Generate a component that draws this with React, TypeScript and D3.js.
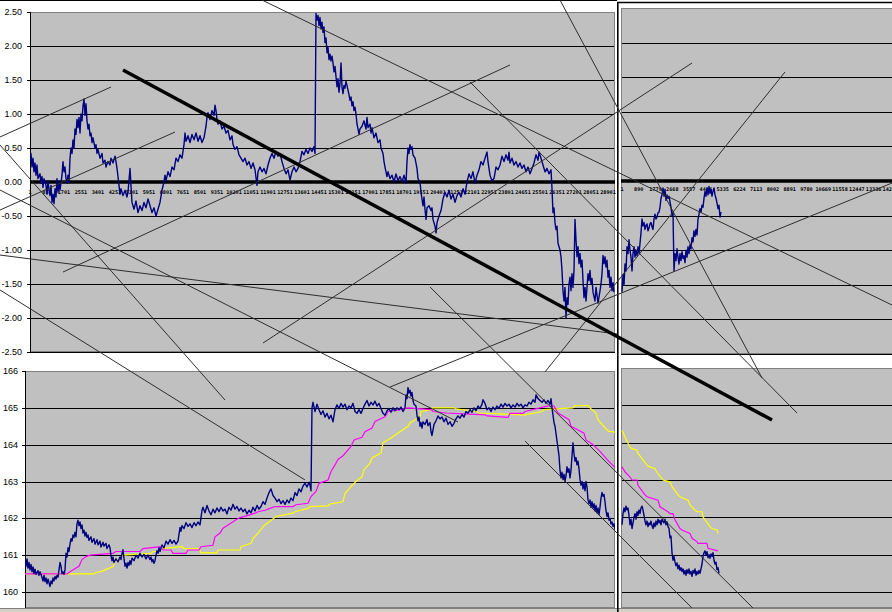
import React from 'react';
import * as d3 from 'd3';

const W = 892;
const H = 612;

// ---- axis values / labels ----
const topYTicks = [2.5, 2, 1.5, 1, 0.5, 0, -0.5, -1, -1.5, -2, -2.5];
const botYTicks = [166, 165, 164, 163, 162, 161, 160];
const leftXLabels = ['1','851','1701','2551','3401','4251','5101','5951','6801','7651','8501','9351','10201','11051','11901','12751','13601','14451','15301','16151','17001','17851','18701','19551','20401','21251','22101','22951','23801','24651','25501','26351','27201','28051','28901'];
const rightXLabels = ['1','890','1779','2668','3557','4446','5335','6224','7113','8002','8891','9780','10669','11558','12447','13336','14225'];

// ---- top-left series: [observation, value] ----
const topLeftSeries: [number, number][] = [
[0,0.30],[50,0.42],[100,0.22],[150,0.35],[200,0.15],[250,0.28],[300,0.10],[350,0.25],[400,0.05],[500,0.12],[550,-0.02],[600,0.08],[650,-0.08],[700,0.05],[800,-0.05],[850,-0.18],[900,0.02],[950,-0.12],[1000,-0.20],[1050,-0.05],[1100,-0.30],[1150,-0.18],[1200,-0.32],[1250,-0.10],[1300,-0.22],[1350,0.05],[1400,-0.15],[1450,0.00],[1500,-0.12],[1600,0.10],[1650,0.30],[1700,0.15],[1750,0.22],[1800,0.05],[1850,-0.02],[1900,0.10],[1950,0.00],[2000,0.35],[2050,0.50],[2100,0.42],[2150,0.62],[2200,0.50],[2250,0.78],[2300,0.70],[2350,0.92],[2400,0.80],[2450,0.95],[2500,0.72],[2550,1.00],[2600,0.90],[2650,1.12],[2700,1.22],[2750,0.98],[2800,1.15],[2850,0.90],[2900,0.78],[2950,0.85],[3000,0.68],[3050,0.72],[3100,0.58],[3150,0.65],[3250,0.50],[3300,0.55],[3350,0.42],[3400,0.48],[3500,0.35],[3600,0.42],[3650,0.28],[3750,0.32],[3800,0.22],[3900,0.30],[4000,0.25],[4050,0.35],[4150,0.28],[4250,0.38],[4300,0.30],[4350,0.20],[4400,0.08],[4450,-0.05],[4500,-0.18],[4550,-0.10],[4650,-0.20],[4750,-0.12],[4850,-0.22],[4900,-0.15],[5000,0.20],[5050,-0.05],[5100,-0.30],[5200,-0.40],[5300,-0.28],[5400,-0.45],[5500,-0.35],[5600,-0.42],[5700,-0.30],[5800,-0.38],[5900,-0.25],[6000,-0.35],[6100,-0.45],[6200,-0.38],[6300,-0.50],[6400,-0.40],[6500,-0.30],[6600,-0.12],[6700,0.00],[6750,0.10],[6800,0.02],[6900,0.15],[7000,0.08],[7100,0.22],[7200,0.18],[7300,0.35],[7400,0.30],[7500,0.40],[7600,0.35],[7700,0.55],[7750,0.72],[7800,0.60],[7900,0.68],[8000,0.58],[8100,0.70],[8200,0.62],[8300,0.72],[8400,0.60],[8500,0.68],[8600,0.58],[8700,0.65],[8800,0.82],[8850,0.95],[8900,1.02],[9000,0.92],[9100,1.05],[9200,0.98],[9250,1.13],[9300,1.05],[9350,0.92],[9400,0.85],[9500,0.90],[9600,0.78],[9700,0.82],[9800,0.72],[9900,0.76],[10000,0.62],[10100,0.68],[10150,0.55],[10250,0.48],[10350,0.52],[10450,0.40],[10550,0.35],[10650,0.30],[10750,0.35],[10850,0.25],[10950,0.30],[11050,0.20],[11150,0.28],[11250,0.18],[11350,-0.05],[11400,0.15],[11500,0.22],[11600,0.15],[11700,0.20],[11800,0.12],[11900,0.25],[12000,0.35],[12100,0.42],[12200,0.35],[12300,0.45],[12400,0.38],[12500,0.42],[12600,0.30],[12700,0.20],[12800,0.12],[12900,0.18],[13000,0.03],[13100,0.15],[13200,0.22],[13300,0.15],[13400,0.20],[13500,0.30],[13600,0.45],[13700,0.40],[13800,0.48],[13900,0.42],[14000,0.50],[14100,0.45],[14200,0.52],[14250,0.42],[14300,2.48],[14350,2.38],[14400,2.45],[14450,2.30],[14500,2.42],[14550,2.25],[14600,2.35],[14650,2.20],[14700,2.28],[14750,2.05],[14800,2.12],[14850,1.90],[14900,1.98],[14950,1.80],[15000,1.88],[15050,1.78],[15100,1.85],[15150,1.75],[15200,1.62],[15250,1.70],[15300,1.55],[15350,1.40],[15400,1.52],[15450,1.32],[15500,1.45],[15550,1.75],[15600,1.40],[15650,1.30],[15700,1.42],[15750,1.38],[15800,1.48],[15850,1.42],[15900,1.35],[15950,1.28],[16000,1.20],[16050,1.25],[16100,1.12],[16150,1.18],[16200,1.05],[16250,1.10],[16300,1.00],[16350,0.85],[16400,0.78],[16450,0.70],[16500,0.78],[16600,0.82],[16700,0.90],[16800,0.78],[16850,0.95],[16900,0.80],[17000,0.85],[17050,0.72],[17100,0.80],[17200,0.65],[17300,0.72],[17400,0.58],[17500,0.62],[17550,0.50],[17650,0.42],[17700,0.30],[17750,0.22],[17850,0.08],[17900,0.15],[18000,0.05],[18100,0.10],[18200,0.00],[18300,0.12],[18400,0.02],[18500,0.08],[18600,0.00],[18700,0.10],[18800,-0.02],[18850,0.30],[18900,0.50],[18950,0.42],[19000,0.55],[19050,0.48],[19100,0.52],[19150,0.40],[19250,0.35],[19350,0.20],[19400,0.05],[19500,0.00],[19550,-0.15],[19600,-0.25],[19650,-0.35],[19700,-0.22],[19750,-0.40],[19800,-0.55],[19850,-0.38],[19950,-0.35],[20050,-0.42],[20100,-0.38],[20150,-0.55],[20250,-0.65],[20300,-0.75],[20350,-0.60],[20450,-0.50],[20550,-0.42],[20650,-0.25],[20750,-0.15],[20850,-0.22],[20950,-0.12],[21050,-0.25],[21150,-0.18],[21250,-0.30],[21350,-0.20],[21450,-0.15],[21550,-0.22],[21650,-0.10],[21750,-0.18],[21850,0.00],[21950,0.12],[22050,0.05],[22150,0.15],[22250,-0.02],[22350,0.10],[22450,0.18],[22550,0.30],[22650,0.25],[22750,0.35],[22850,0.44],[22900,0.30],[23000,0.10],[23100,0.02],[23200,0.05],[23300,0.22],[23400,0.18],[23500,0.25],[23600,0.38],[23700,0.30],[23800,0.40],[23900,0.32],[23950,0.44],[24000,0.28],[24100,0.35],[24200,0.25],[24300,0.30],[24400,0.22],[24500,0.28],[24600,0.20],[24700,0.25],[24800,0.15],[24900,0.22],[25000,0.12],[25100,0.20],[25200,0.28],[25300,0.40],[25400,0.32],[25450,0.44],[25550,0.35],[25650,0.25],[25750,0.15],[25850,0.20],[25950,0.12],[26050,0.18],[26100,-0.10],[26150,-0.45],[26200,-0.38],[26250,-0.60],[26300,-0.70],[26350,-0.65],[26400,-0.90],[26500,-1.00],[26550,-1.10],[26600,-1.30],[26650,-1.60],[26700,-1.75],[26750,-1.55],[26800,-2.00],[26850,-1.70],[26900,-1.80],[26950,-1.50],[27000,-1.40],[27050,-1.60],[27100,-1.35],[27150,-1.55],[27200,-1.30],[27250,-0.55],[27300,-0.85],[27350,-1.10],[27400,-0.95],[27450,-1.20],[27500,-1.05],[27550,-1.25],[27600,-1.15],[27650,-1.45],[27700,-1.70],[27750,-1.55],[27800,-1.75],[27850,-1.55],[27900,-1.35],[27950,-1.45],[28000,-1.30],[28050,-1.50],[28100,-1.42],[28150,-1.62],[28250,-1.75],[28300,-1.55],[28400,-1.78],[28500,-1.60],[28550,-1.50],[28600,-1.35],[28650,-1.08],[28700,-1.20],[28750,-1.10],[28800,-1.25],[28850,-1.15],[28900,-1.40],[28950,-1.30],[29000,-1.55],[29050,-1.40],[29100,-1.60],[29150,-1.48],[29200,-1.62]
];

// ---- top-right series: one value every 53 observations ----
const topRightStep = 53;
const topRightSeries = [
-1.60,-1.35,-1.50,-1.20,-1.30,-0.95,-1.05,-0.85,-1.00,-1.10,-1.30,-1.05,-0.95,-1.10,-1.00,-1.08,-0.95,-1.05,-0.90,-0.75,
-0.55,-0.65,-0.60,-0.70,-0.64,-0.62,-0.72,-0.68,-0.62,-0.60,-0.66,-0.70,-0.55,-0.48,-0.55,-0.52,-0.46,-0.45,-0.38,-0.25,
-0.20,-0.10,-0.22,-0.12,-0.28,-0.20,-0.25,-0.22,-0.30,-0.38,-0.50,-0.45,-1.30,-1.05,-1.15,-0.98,-1.10,-1.20,-1.05,-1.15,
-1.02,-1.12,-1.08,-1.18,-1.00,-1.10,-0.95,-1.05,-0.92,-0.98,-0.82,-0.88,-0.72,-0.80,-0.70,-0.78,-0.55,-0.48,-0.40,-0.45,
-0.35,-0.38,-0.25,-0.15,-0.22,-0.10,-0.20,-0.08,-0.18,-0.12,-0.22,-0.15,-0.10,-0.20,-0.25,-0.32,-0.40,-0.35,-0.52,-0.45
];

// ---- bottom-left series ----
const bottomLeftPrice: [number, number][] = [
[0,160.85],[50,160.70],[100,160.90],[150,160.65],[200,160.80],[250,160.60],[300,160.75],[350,160.55],[400,160.68],[450,160.50],[500,160.62],[550,160.48],[650,160.58],[700,160.45],[750,160.55],[850,160.40],[900,160.30],[950,160.45],[1000,160.28],[1050,160.38],[1100,160.22],[1150,160.35],[1200,160.25],[1250,160.15],[1300,160.30],[1350,160.22],[1400,160.38],[1450,160.30],[1500,160.42],[1550,160.35],[1600,160.45],[1650,160.40],[1750,160.80],[1800,160.70],[1850,160.50],[1900,160.55],[1950,160.48],[2000,160.60],[2050,161.05],[2100,160.95],[2150,161.20],[2200,161.10],[2250,161.30],[2300,161.45],[2350,161.38],[2400,161.55],[2450,161.48],[2500,161.62],[2550,161.50],[2600,161.85],[2650,161.95],[2700,161.80],[2750,161.90],[2800,161.72],[2850,161.82],[2900,161.60],[2950,161.68],[3000,161.52],[3050,161.62],[3100,161.48],[3150,161.55],[3200,161.40],[3300,161.50],[3350,161.35],[3450,161.45],[3500,161.30],[3600,161.42],[3650,161.28],[3750,161.38],[3800,161.22],[3900,161.35],[3950,161.25],[4050,161.32],[4100,161.18],[4200,161.28],[4250,161.20],[4300,160.98],[4350,160.85],[4400,160.95],[4450,160.80],[4550,160.90],[4650,160.82],[4750,160.95],[4800,160.88],[4850,161.05],[4900,161.15],[4950,160.90],[5000,160.70],[5050,160.78],[5100,160.65],[5150,160.80],[5200,160.72],[5250,160.85],[5300,160.75],[5350,160.92],[5450,160.85],[5550,161.00],[5650,160.92],[5750,161.05],[5850,160.95],[5950,161.02],[6050,160.90],[6150,161.00],[6250,160.88],[6300,160.95],[6350,160.82],[6400,160.88],[6450,160.78],[6500,160.85],[6550,161.00],[6600,161.12],[6650,161.05],[6700,161.20],[6750,161.10],[6850,161.28],[6950,161.20],[7050,161.38],[7150,161.30],[7250,161.42],[7350,161.32],[7450,161.40],[7550,161.30],[7650,161.38],[7750,161.75],[7800,161.65],[7850,161.80],[7950,161.72],[8050,161.88],[8150,161.78],[8250,161.85],[8350,161.75],[8450,161.88],[8550,161.80],[8650,161.90],[8750,161.82],[8850,162.22],[8900,162.30],[9000,162.15],[9100,162.35],[9200,162.20],[9300,162.10],[9400,162.25],[9500,162.15],[9600,162.28],[9700,162.18],[9800,162.30],[9900,162.20],[10000,162.25],[10100,162.12],[10200,162.30],[10300,162.22],[10400,162.38],[10500,162.25],[10600,162.32],[10700,162.20],[10800,162.28],[10900,162.18],[11000,162.25],[11100,162.12],[11200,162.22],[11300,162.15],[11400,162.30],[11500,162.20],[11600,162.35],[11700,162.25],[11800,162.32],[11900,162.45],[12000,162.38],[12100,162.55],[12200,162.70],[12300,162.80],[12400,162.62],[12500,162.55],[12600,162.45],[12700,162.52],[12800,162.40],[12900,162.48],[13000,162.38],[13100,162.50],[13200,162.42],[13300,162.55],[13400,162.48],[13500,162.70],[13600,162.62],[13700,162.80],[13800,162.72],[13900,162.88],[14000,162.95],[14100,162.85],[14200,162.98],[14250,162.90],[14300,162.75],[14350,165.00],[14400,165.15],[14500,164.90],[14600,165.10],[14700,164.95],[14800,164.82],[14900,164.92],[15000,164.75],[15100,164.85],[15200,164.70],[15300,164.80],[15400,164.62],[15500,164.95],[15600,165.08],[15700,164.98],[15800,165.12],[15900,165.02],[16000,165.10],[16100,164.95],[16200,165.05],[16300,165.00],[16400,165.12],[16500,164.90],[16600,164.85],[16700,164.95],[16800,164.85],[16900,164.98],[17000,165.10],[17100,165.20],[17200,165.05],[17300,165.15],[17400,165.08],[17500,165.18],[17600,165.05],[17700,165.12],[17800,164.98],[17900,164.85],[18000,164.80],[18100,164.92],[18200,164.98],[18300,164.88],[18400,165.00],[18500,164.92],[18600,165.00],[18700,164.95],[18800,165.02],[18900,164.90],[19000,165.00],[19050,165.35],[19100,165.25],[19150,165.55],[19200,165.40],[19250,165.48],[19300,165.32],[19350,165.42],[19400,165.20],[19450,165.10],[19550,165.05],[19600,164.80],[19650,164.65],[19700,164.75],[19750,164.50],[19800,164.60],[19850,164.45],[19900,164.62],[20000,164.55],[20100,164.68],[20150,164.52],[20250,164.60],[20300,164.35],[20350,164.25],[20400,164.40],[20450,164.55],[20550,164.65],[20650,164.78],[20750,164.70],[20850,164.75],[20950,164.62],[21050,164.72],[21150,164.55],[21250,164.62],[21350,164.50],[21450,164.58],[21550,164.70],[21650,164.78],[21750,164.72],[21850,164.82],[21950,164.75],[22050,164.90],[22150,164.85],[22250,164.95],[22350,164.88],[22450,165.00],[22550,164.92],[22650,165.05],[22750,164.98],[22850,165.10],[22900,165.22],[23000,165.12],[23100,164.95],[23200,165.00],[23300,164.90],[23400,165.02],[23500,164.95],[23600,165.05],[23700,164.98],[23800,165.10],[23900,165.02],[24000,165.12],[24100,165.05],[24200,165.10],[24300,165.00],[24400,165.08],[24500,165.02],[24600,165.12],[24700,165.05],[24800,165.10],[24900,165.00],[25000,165.08],[25100,165.05],[25200,165.15],[25300,165.10],[25400,165.22],[25500,165.15],[25550,165.35],[25650,165.25],[25750,165.20],[25850,165.15],[25950,165.22],[26050,165.12],[26150,165.20],[26250,165.10],[26300,165.25],[26350,165.00],[26400,164.80],[26450,164.60],[26500,164.50],[26550,164.30],[26600,164.10],[26650,163.90],[26700,163.70],[26750,163.30],[26800,163.10],[26850,163.25],[26900,163.05],[26950,163.20],[27000,163.00],[27050,163.15],[27100,163.40],[27150,163.25],[27200,163.35],[27250,163.10],[27300,163.30],[27350,163.70],[27400,164.05],[27450,163.75],[27500,163.55],[27550,163.65],[27600,163.45],[27650,163.55],[27700,163.35],[27750,163.05],[27800,162.90],[27850,163.00],[27900,162.80],[27950,162.95],[28000,162.75],[28050,163.00],[28100,162.85],[28150,162.50],[28200,162.40],[28250,162.50],[28300,162.30],[28350,162.45],[28400,162.28],[28450,162.40],[28500,162.20],[28550,162.35],[28600,162.15],[28650,162.28],[28700,162.10],[28750,162.30],[28800,162.55],[28850,162.70],[28900,162.60],[28950,162.65],[29000,162.45],[29050,162.20],[29100,162.05],[29150,162.15],[29200,161.95],[29250,162.00],[29300,161.85],[29350,161.90],[29400,161.78],[29450,161.85],[29500,161.70]
];
const bottomLeftMagenta: [number, number][] = [
[0,160.49],[2100,160.49],[2250,160.55],[2450,160.62],[2700,160.70],[2850,160.88],[3050,160.96],[3250,161.00],[4400,161.05],[4550,161.10],[5750,161.10],[5900,161.18],[6800,161.23],[6900,161.14],[7300,161.14],[7400,161.05],[8050,161.05],[8150,161.14],[8700,161.14],[8800,161.23],[9400,161.27],[9500,161.50],[9750,161.60],[9900,161.73],[10250,161.85],[10550,161.96],[10750,162.02],[11150,162.08],[11500,162.14],[11650,162.18],[12000,162.22],[12250,162.27],[12500,162.32],[13400,162.32],[13550,162.37],[14150,162.41],[14300,162.59],[14550,162.73],[14700,162.95],[15150,163.04],[15300,163.27],[15500,163.45],[15650,163.60],[15900,163.70],[16300,163.95],[16450,164.13],[16850,164.20],[17000,164.35],[17350,164.45],[17500,164.63],[18000,164.76],[18150,164.90],[18750,164.95],[19150,165.00],[20300,164.95],[20400,164.90],[21050,164.86],[23000,164.81],[23100,164.78],[24150,164.74],[24250,164.85],[24900,164.85],[25000,164.90],[26050,165.04],[26150,165.05],[26450,165.05],[26650,164.86],[27200,164.68],[27300,164.50],[27950,164.31],[28050,164.13],[28400,164.00],[28750,163.82],[29100,163.60],[29500,163.38]
];
const bottomLeftYellow: [number, number][] = [
[0,160.49],[3450,160.49],[3550,160.53],[3850,160.56],[4000,160.60],[4400,160.69],[4500,160.82],[4800,160.96],[4900,161.00],[6300,161.05],[6400,161.10],[6700,161.10],[6800,161.18],[7850,161.23],[7950,161.18],[8700,161.18],[8800,161.06],[9600,161.06],[9650,161.14],[10750,161.14],[10800,161.23],[11300,161.32],[11400,161.45],[11650,161.60],[11950,161.80],[12250,161.92],[12550,162.05],[13400,162.14],[13500,162.18],[14150,162.27],[14250,162.32],[15150,162.34],[15250,162.39],[15900,162.45],[16000,162.68],[16450,162.95],[16550,163.00],[16850,163.13],[16950,163.32],[17250,163.50],[17350,163.64],[17800,163.77],[17900,164.05],[18300,164.18],[18400,164.22],[19150,164.50],[19250,164.59],[19750,164.76],[19800,164.90],[20300,164.95],[20400,165.00],[21450,165.00],[21550,164.97],[22600,164.90],[22700,164.86],[24900,164.81],[25000,164.81],[25850,164.90],[25950,164.95],[27400,165.00],[27500,165.06],[28150,165.06],[28250,165.00],[28550,164.86],[28650,164.68],[29100,164.40],[29200,164.36],[29500,164.34]
];

// ---- bottom-right series ----
const bottomRightStep = 53;
const bottomRightPrice = [
161.80,162.10,162.25,162.15,162.30,162.20,162.25,162.05,161.80,161.95,161.70,161.85,162.00,162.10,161.95,162.15,162.05,162.20,162.10,162.25,
162.30,162.20,162.05,161.90,161.80,161.90,161.75,161.85,161.80,161.90,161.78,161.70,161.85,161.75,161.90,161.80,161.95,161.85,161.92,161.80,
161.95,161.90,161.85,161.95,161.80,161.88,161.75,161.70,161.45,161.50,161.05,160.85,160.95,160.80,160.70,160.78,160.62,160.72,160.58,160.65,
160.55,160.62,160.48,160.58,160.45,160.60,160.50,160.62,160.48,160.55,160.42,160.58,160.50,160.62,160.45,160.55,160.48,160.58,160.50,160.62,
160.75,160.95,161.05,161.10,160.98,161.08,160.92,161.00,160.90,161.02,160.95,161.05,160.85,160.75,160.80,160.60,160.65,160.50
];
const bottomRightMagenta: [number, number][] = [
[0,163.35],[159,163.22],[424,163.08],[530,163.00],[795,163.00],[848,162.86],[1219,162.60],[1325,162.55],[1908,162.46],[2014,162.28],[2438,162.15],[2544,162.10],[2703,162.10],[2809,161.93],[3074,161.70],[3180,161.66],[3604,161.57],[3710,161.44],[3975,161.35],[4028,161.30],[4505,161.30],[4558,161.17],[5088,161.10]
];
const bottomRightYellow: [number, number][] = [
[0,164.33],[159,164.15],[424,163.88],[530,163.84],[795,163.80],[848,163.71],[1325,163.40],[1378,163.37],[1749,163.30],[1855,163.20],[2120,163.04],[2173,163.00],[2544,162.95],[2650,162.82],[2968,162.60],[3074,162.55],[3498,162.46],[3604,162.33],[3869,162.19],[3975,162.15],[4240,162.15],[4293,162.01],[4664,161.75],[4770,161.70],[5035,161.66],[5088,161.57]
];

// ---- hand-drawn trend lines, in top-left chart units [obs1, val1, obs2, val2] ----
const thinTrendLines: [number, number, number, number][] = [
[-1500, 0.662, 4050, 1.397],
[-1500, -0.412, 7250, 0.735],
[-1500, 0.544, 9750, -3.206],
[-1500, -0.118, 21400, -3.529],
[-1500, -1.074, 29350, -2.235],
[-1500, -1.588, 13750, -4.382],
[1650, -1.324, 24000, 1.721],
[11600, 2.676, 43100, -1.809],
[22000, 1.471, 38350, -3.397],
[26500, 2.676, 36600, -2.882],
[25750, -2.794, 37750, 1.618],
[11650, -2.368, 33100, 1.75],
[20000, -1.544, 36150, -6.265],
[24750, -3.809, 33100, -6.265],
[18000, -3.015, 43100, -0.015],
];
const boldTrendLine: [number, number, number, number] = [4650, 1.647, 37100, -3.5];

// ---- scales ----
const xTL = d3.scaleLinear().domain([0, 28900]).range([30, 608]);
const yTL = d3.scaleLinear().domain([-2.5, 2.5]).range([352, 12]);
const xBL = d3.scaleLinear().domain([0, 29500]).range([25, 615]);
const yBL = d3.scaleLinear().domain([160, 166]).range([592, 371]);
const xR = d3.scaleLinear().domain([0, 13303]).range([622, 873]);
const yTR = d3.scaleLinear().domain([-2.5, 2.5]).range([354, 8]);
const yBR = d3.scaleLinear().domain([160, 166]).range([592, 368]);

const panelTL = { x0: 30, x1: 615, y0: 12, y1: 352 };
const panelBL = { x0: 25, x1: 615, y0: 371, y1: 608 };
const panelTR = { x0: 621, x1: 893, y0: 8, y1: 354 };
const panelBR = { x0: 621, x1: 893, y0: 368, y1: 608 };

const NAVY = '#000080';
const MAGENTA = '#FF00FF';
const YELLOW = '#FFFF00';
const PLOT_BG = '#C0C0C0';
const FONT = '"Liberation Sans", Arial, sans-serif';
const TICK_FONT = '"DejaVu Sans Mono", monospace';

function linePath(data: [number, number][], xs: any, ys: any) {
  return d3.line<[number, number]>().x(d => xs(d[0])).y(d => ys(d[1]))(data) || '';
}

export default function App() {
  const trLine: [number, number][] = topRightSeries.map((v, i) => [i * topRightStep, v]);
  const brLine: [number, number][] = bottomRightPrice.map((v, i) => [i * bottomRightStep, v]);

  const rect = (p: any, key: string) => (
    <rect key={key} x={p.x0} y={p.y0} width={p.x1 - p.x0} height={p.y1 - p.y0} fill={PLOT_BG} />
  );
  const border = (p: any, key: string) => (
    <rect key={key} x={p.x0 + 0.5} y={p.y0 + 0.5} width={p.x1 - p.x0 - 1} height={p.y1 - p.y0 - 1} fill="none" stroke="#808080" strokeWidth={1} />
  );

  return (
    <svg width={W} height={H} viewBox={`0 0 ${W} ${H}`} style={{ position: 'absolute', left: 0, top: 0, background: '#fff' }}>
      <defs>
        <clipPath id="cTL"><rect x={panelTL.x0} y={panelTL.y0} width={panelTL.x1 - panelTL.x0} height={panelTL.y1 - panelTL.y0} /></clipPath>
        <clipPath id="cBL"><rect x={panelBL.x0} y={panelBL.y0} width={panelBL.x1 - panelBL.x0} height={panelBL.y1 - panelBL.y0} /></clipPath>
        <clipPath id="cTR"><rect x={panelTR.x0} y={panelTR.y0} width={panelTR.x1 - panelTR.x0} height={panelTR.y1 - panelTR.y0} /></clipPath>
        <clipPath id="cBR"><rect x={panelBR.x0} y={panelBR.y0} width={panelBR.x1 - panelBR.x0} height={panelBR.y1 - panelBR.y0} /></clipPath>
      </defs>
      <rect x={0} y={0} width={W} height={H} fill="#fff" />

      {rect(panelTL, 'bTL')}
      {rect(panelBL, 'bBL')}
      {rect(panelTR, 'bTR')}
      {rect(panelBR, 'bBR')}

      {/* gridlines top-left */}
      {topYTicks.filter(t => t !== 2.5 && t !== 0).map(t => (
        <line key={'gtl' + t} x1={panelTL.x0 - 3} x2={panelTL.x1} y1={Math.round(yTL(t)) + 0.5} y2={Math.round(yTL(t)) + 0.5} stroke="#000" strokeWidth={1} />
      ))}
      {topYTicks.filter(t => t !== 2.5 && t !== 0).map(t => (
        <line key={'gtr' + t} x1={panelTR.x0} x2={panelTR.x1} y1={Math.round(yTR(t)) + 0.5} y2={Math.round(yTR(t)) + 0.5} stroke="#000" strokeWidth={1} />
      ))}
      {botYTicks.filter(t => t !== 166).map(t => (
        <line key={'gbl' + t} x1={panelBL.x0 - 3} x2={panelBL.x1} y1={Math.round(yBL(t)) + 0.5} y2={Math.round(yBL(t)) + 0.5} stroke="#000" strokeWidth={1} />
      ))}
      {botYTicks.filter(t => t !== 166).map(t => (
        <line key={'gbr' + t} x1={panelBR.x0} x2={panelBR.x1} y1={Math.round(yBR(t)) + 0.5} y2={Math.round(yBR(t)) + 0.5} stroke="#000" strokeWidth={1} />
      ))}
      <line x1={panelTL.x0 - 3} x2={panelTL.x0} y1={panelTL.y0 + 0.5} y2={panelTL.y0 + 0.5} stroke="#000" />
      <line x1={panelBL.x0 - 3} x2={panelBL.x0} y1={panelBL.y0 + 0.5} y2={panelBL.y0 + 0.5} stroke="#000" />

      {/* y labels */}
      {topYTicks.map(t => (
        <text key={'ltl' + t} x={22} y={yTL(t)} dy="0.35em" textAnchor="end" fontFamily={FONT} fontSize={9} fill="#000">{t.toFixed(2)}</text>
      ))}
      {botYTicks.map(t => (
        <text key={'lbl' + t} x={18} y={yBL(t)} dy="0.35em" textAnchor="end" fontFamily={FONT} fontSize={9} fill="#000">{String(t)}</text>
      ))}

      {/* borders */}
      {border(panelTL, 'brTL')}
      {border(panelBL, 'brBL')}
      {border(panelTR, 'brTR')}
      {border(panelBR, 'brBR')}
      <line x1={panelTL.x0 + 0.5} x2={panelTL.x0 + 0.5} y1={panelTL.y0} y2={panelTL.y1} stroke="#000" />
      <line x1={panelBL.x0 + 0.5} x2={panelBL.x0 + 0.5} y1={panelBL.y0} y2={panelBL.y1} stroke="#000" />

      {/* category axis (zero line) and tick labels */}
      <line x1={panelTL.x0} x2={panelTL.x1} y1={yTL(0)} y2={yTL(0)} stroke="#000" strokeWidth={3.5} />
      <line x1={panelTR.x0} x2={panelTR.x1} y1={yTR(0)} y2={yTR(0)} stroke="#000" strokeWidth={3.5} />
      {leftXLabels.map(l => (
        <text key={'xl' + l} x={xTL(Number(l) - 1)} y={yTL(0) + 11.5} textAnchor="middle" fontFamily={TICK_FONT} fontWeight="bold" fontSize={5.2} fill="#000">{l}</text>
      ))}
      {rightXLabels.map(l => (
        <text key={'xr' + l} x={xR(Number(l) - 1)} y={yTR(0) + 9.5} textAnchor="middle" fontFamily={TICK_FONT} fontWeight="bold" fontSize={5.2} fill="#000">{l}</text>
      ))}

      {/* series */}
      <g clipPath="url(#cTL)">
        <path d={linePath(topLeftSeries, xTL, yTL)} fill="none" stroke={NAVY} strokeWidth={1.4} strokeLinejoin="round" />
      </g>
      <g clipPath="url(#cTR)">
        <path d={linePath(trLine, xR, yTR)} fill="none" stroke={NAVY} strokeWidth={1.4} strokeLinejoin="round" />
      </g>
      <g clipPath="url(#cBL)">
        <path d={linePath(bottomLeftYellow, xBL, yBL)} fill="none" stroke={YELLOW} strokeWidth={1.2} />
        <path d={linePath(bottomLeftMagenta, xBL, yBL)} fill="none" stroke={MAGENTA} strokeWidth={1.2} />
        <path d={linePath(bottomLeftPrice, xBL, yBL)} fill="none" stroke={NAVY} strokeWidth={1.4} strokeLinejoin="round" />
      </g>
      <g clipPath="url(#cBR)">
        <path d={linePath(bottomRightYellow, xR, yBR)} fill="none" stroke={YELLOW} strokeWidth={1.2} />
        <path d={linePath(bottomRightMagenta, xR, yBR)} fill="none" stroke={MAGENTA} strokeWidth={1.2} />
        <path d={linePath(brLine, xR, yBR)} fill="none" stroke={NAVY} strokeWidth={1.4} strokeLinejoin="round" />
      </g>

      {/* window chrome */}
      <rect x={0} y={608} width={W} height={4} fill="#D4D0C8" />
      <line x1={0} x2={W} y1={608.5} y2={608.5} stroke="#808080" />
      <line x1={0} x2={617} y1={0.5} y2={0.5} stroke="#000" />
      <line x1={617} x2={W} y1={2.5} y2={2.5} stroke="#000" strokeWidth={1.5} />
      <line x1={617.8} x2={617.8} y1={2} y2={H} stroke="#000" strokeWidth={1.6} />

      {/* drawn trend lines */}
      {thinTrendLines.map((l, i) => (
        <line key={'tl' + i} x1={xTL(l[0])} y1={yTL(l[1])} x2={xTL(l[2])} y2={yTL(l[3])} stroke="#2e2e2e" strokeWidth={1} />
      ))}
      <line x1={xTL(boldTrendLine[0])} y1={yTL(boldTrendLine[1])} x2={xTL(boldTrendLine[2])} y2={yTL(boldTrendLine[3])} stroke="#000" strokeWidth={3.5} />
    </svg>
  );
}
